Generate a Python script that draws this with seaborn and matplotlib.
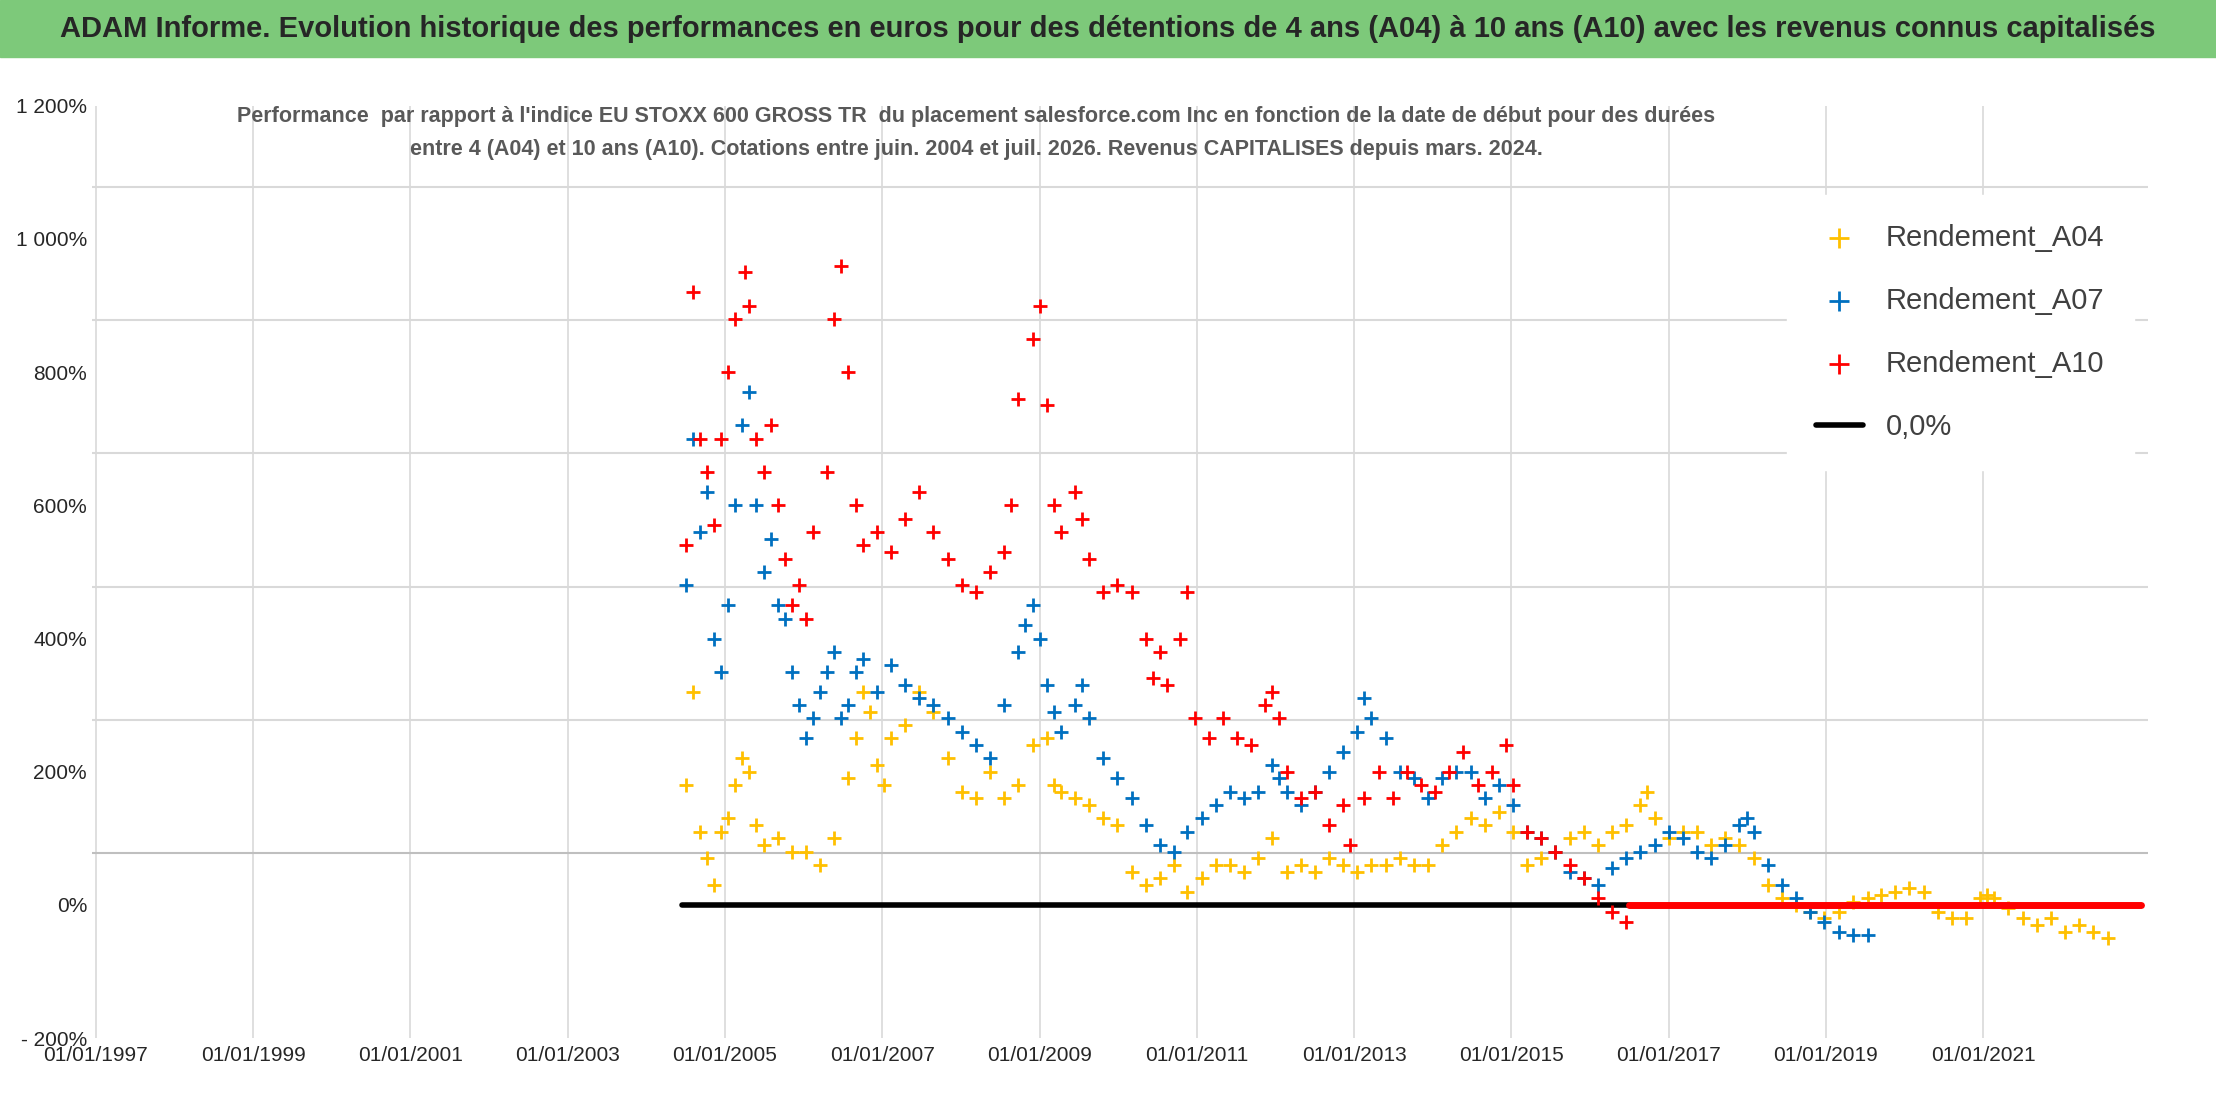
import matplotlib
matplotlib.use("Agg")
import matplotlib.pyplot as plt
import seaborn as sns
import pandas as pd
from matplotlib.ticker import FuncFormatter

# values (decimal years, performance in %)
a04_years = [2004.50, 2004.59, 2004.68, 2004.77, 2004.86, 2004.95, 2005.04, 2005.13, 2005.22, 2005.31,
             2005.40, 2005.49, 2005.67, 2005.85, 2006.03, 2006.21, 2006.39, 2006.57, 2006.66, 2006.75,
             2006.84, 2006.93, 2007.02, 2007.11, 2007.29, 2007.47, 2007.65, 2007.83, 2008.01, 2008.19,
             2008.37, 2008.55, 2008.73, 2008.91, 2009.09, 2009.18, 2009.27, 2009.45, 2009.63, 2009.81,
             2009.99, 2010.17, 2010.35, 2010.53, 2010.71, 2010.88, 2011.06, 2011.24, 2011.42, 2011.60,
             2011.78, 2011.96, 2012.14, 2012.32, 2012.50, 2012.68, 2012.86, 2013.04, 2013.22, 2013.40,
             2013.58, 2013.76, 2013.94, 2014.12, 2014.30, 2014.48, 2014.66, 2014.84, 2015.02, 2015.20,
             2015.38, 2015.56, 2015.74, 2015.92, 2016.10, 2016.28, 2016.46, 2016.64, 2016.73, 2016.82,
             2017.00, 2017.18, 2017.36, 2017.54, 2017.72, 2017.90, 2018.08, 2018.26, 2018.44, 2018.62,
             2018.80, 2018.98, 2019.16, 2019.34, 2019.53, 2019.70, 2019.88, 2020.06, 2020.24, 2020.42,
             2020.60, 2020.78, 2020.96, 2021.05, 2021.14, 2021.32, 2021.50, 2021.68, 2021.86, 2022.04,
             2022.22, 2022.40, 2022.58]
a04_vals = [180, 320, 110, 70, 30, 110, 130, 180, 220, 200,
            120, 90, 100, 80, 80, 60, 100, 190, 250, 320,
            290, 210, 180, 250, 270, 320, 290, 220, 170, 160,
            200, 160, 180, 240, 250, 180, 170, 160, 150, 130,
            120, 50, 30, 40, 60, 20, 40, 60, 60, 50,
            70, 100, 50, 60, 50, 70, 60, 50, 60, 60,
            70, 60, 60, 90, 110, 130, 120, 140, 110, 60,
            70, 80, 100, 110, 90, 110, 120, 150, 170, 130,
            100, 110, 110, 90, 100, 90, 70, 30, 10, 0,
            -10, -20, -10, 5, 10, 15, 20, 25, 20, -10,
            -20, -20, 10, 15, 10, -5, -20, -30, -20, -40,
            -30, -40, -50]

a07_years = [2004.50, 2004.59, 2004.68, 2004.77, 2004.86, 2004.95, 2005.04, 2005.13, 2005.22, 2005.31,
             2005.40, 2005.49, 2005.58, 2005.67, 2005.76, 2005.85, 2005.94, 2006.03, 2006.12, 2006.21,
             2006.30, 2006.39, 2006.48, 2006.57, 2006.66, 2006.75, 2006.93, 2007.11, 2007.29, 2007.47,
             2007.65, 2007.83, 2008.01, 2008.19, 2008.37, 2008.55, 2008.73, 2008.82, 2008.91, 2009.00,
             2009.09, 2009.18, 2009.27, 2009.45, 2009.54, 2009.63, 2009.81, 2009.99, 2010.17, 2010.35,
             2010.53, 2010.71, 2010.88, 2011.06, 2011.24, 2011.42, 2011.60, 2011.78, 2011.96, 2012.05,
             2012.14, 2012.32, 2012.50, 2012.68, 2012.86, 2013.04, 2013.13, 2013.22, 2013.40, 2013.58,
             2013.76, 2013.94, 2014.12, 2014.30, 2014.48, 2014.66, 2014.84, 2015.02, 2015.20, 2015.38,
             2015.56, 2015.74, 2015.92, 2016.10, 2016.28, 2016.46, 2016.64, 2016.82, 2017.00, 2017.18,
             2017.36, 2017.54, 2017.72, 2017.90, 2017.99, 2018.08, 2018.26, 2018.44, 2018.62, 2018.80,
             2018.98, 2019.16, 2019.34, 2019.53]
a07_vals = [480, 700, 560, 620, 400, 350, 450, 600, 720, 770,
            600, 500, 550, 450, 430, 350, 300, 250, 280, 320,
            350, 380, 280, 300, 350, 370, 320, 360, 330, 310,
            300, 280, 260, 240, 220, 300, 380, 420, 450, 400,
            330, 290, 260, 300, 330, 280, 220, 190, 160, 120,
            90, 80, 110, 130, 150, 170, 160, 170, 210, 190,
            170, 150, 170, 200, 230, 260, 310, 280, 250, 200,
            190, 160, 190, 200, 200, 160, 180, 150, 110, 100,
            80, 50, 40, 30, 55, 70, 80, 90, 110, 100,
            80, 70, 90, 120, 130, 110, 60, 30, 10, -10,
            -25, -40, -45, -45]

a10_years = [2004.50, 2004.59, 2004.68, 2004.77, 2004.86, 2004.95, 2005.04, 2005.13, 2005.26, 2005.31,
             2005.40, 2005.49, 2005.58, 2005.67, 2005.76, 2005.85, 2005.94, 2006.03, 2006.12, 2006.30,
             2006.39, 2006.48, 2006.57, 2006.66, 2006.75, 2006.93, 2007.11, 2007.29, 2007.47, 2007.65,
             2007.83, 2008.01, 2008.19, 2008.37, 2008.55, 2008.64, 2008.73, 2008.91, 2009.00, 2009.09,
             2009.18, 2009.27, 2009.45, 2009.54, 2009.63, 2009.81, 2009.99, 2010.17, 2010.35, 2010.44,
             2010.53, 2010.62, 2010.79, 2010.88, 2010.97, 2011.15, 2011.33, 2011.51, 2011.69, 2011.87,
             2011.96, 2012.05, 2012.14, 2012.32, 2012.50, 2012.68, 2012.86, 2012.95, 2013.13, 2013.31,
             2013.49, 2013.67, 2013.85, 2014.03, 2014.21, 2014.39, 2014.57, 2014.75, 2014.93, 2015.02,
             2015.20, 2015.38, 2015.56, 2015.74, 2015.92, 2016.10, 2016.28, 2016.46]
a10_vals = [540, 920, 700, 650, 570, 700, 800, 880, 950, 900,
            700, 650, 720, 600, 520, 450, 480, 430, 560, 650,
            880, 960, 800, 600, 540, 560, 530, 580, 620, 560,
            520, 480, 470, 500, 530, 600, 760, 850, 900, 750,
            600, 560, 620, 580, 520, 470, 480, 470, 400, 340,
            380, 330, 400, 470, 280, 250, 280, 250, 240, 300,
            320, 280, 200, 160, 170, 120, 150, 90, 160, 200,
            160, 200, 180, 170, 200, 230, 180, 200, 240, 180,
            110, 100, 80, 60, 40, 10, -10, -25]

a10_flat_years = [2016.50, 2023.00]
a10_flat_vals = [0, 0]
zero_years = [2004.45, 2016.50]
zero_vals = [0, 0]

tick_years = list(range(1997, 2023, 2))
y_ticks = [-200, 0, 200, 400, 600, 800, 1000, 1200]
grid_levels = [78, 278, 478, 678, 878, 1078]

title = ("ADAM Informe. Evolution historique des performances en euros pour des détentions "
         "de 4 ans (A04) à 10 ans (A10) avec les revenus connus capitalisés")
subtitle = ("Performance  par rapport à l'indice EU STOXX 600 GROSS TR  du placement salesforce.com Inc "
            "en fonction de la date de début pour des durées\nentre 4 (A04) et 10 ans (A10). Cotations "
            "entre juin. 2004 et juil. 2026. Revenus CAPITALISES depuis mars. 2024.")

sns.set_style("white")
plt.rcParams['font.family'] = ['Liberation Sans', 'DejaVu Sans']

fig = plt.figure(figsize=(22.16, 11.02), dpi=100)

# green title bar
fig.patches.append(plt.Rectangle((0, 0.948), 1, 0.052, transform=fig.transFigure,
                                 color='#7DC97A', zorder=0))
fig.text(0.5, 0.974, title, ha='center', va='center', fontsize=21, fontweight='bold')

ax = fig.add_axes([0.0415, 0.058, 0.928, 0.846])

for yr in tick_years:
    ax.axvline(yr, color='#d9d9d9', lw=1.2, zorder=0)
for lv in grid_levels:
    ax.axhline(lv, color='#bfbfbf' if lv == 78 else '#d9d9d9', lw=1.5, zorder=0)

df04 = pd.DataFrame({'year': a04_years, 'val': a04_vals})
df07 = pd.DataFrame({'year': a07_years, 'val': a07_vals})
df10 = pd.DataFrame({'year': a10_years, 'val': a10_vals})

sns.scatterplot(data=df04, x='year', y='val', marker='+', s=90, color='#FFC000',
                linewidth=2, label='Rendement_A04', ax=ax, zorder=3)
sns.scatterplot(data=df07, x='year', y='val', marker='+', s=90, color='#0070C0',
                linewidth=2, label='Rendement_A07', ax=ax, zorder=4)
sns.scatterplot(data=df10, x='year', y='val', marker='+', s=90, color='#FF0000',
                linewidth=2, label='Rendement_A10', ax=ax, zorder=5)
ax.plot(a10_flat_years, a10_flat_vals, color='#FF0000', lw=5, zorder=5)
ax.plot(zero_years, zero_vals, color='black', lw=4, label='0,0%', zorder=2)

ax.set_xlim(1996.95, 2023.1)
ax.set_ylim(-200, 1200)
ax.set_xticks(tick_years)
ax.set_xticklabels([f"01/01/{y}" for y in tick_years], fontsize=15)
ax.set_yticks(y_ticks)


def pct(v, pos):
    s = f"{abs(int(v)):,}".replace(',', ' ') + '%'
    return ('- ' + s) if v < 0 else s


ax.yaxis.set_major_formatter(FuncFormatter(pct))
ax.tick_params(axis='y', labelsize=15, length=0)
ax.tick_params(axis='x', length=0, pad=6)
ax.set_xlabel('')
ax.set_ylabel('')
for sp in ax.spines.values():
    sp.set_visible(False)

ax.text(0.43, 1.0, subtitle, transform=ax.transAxes, ha='center', va='top',
        fontsize=15.5, fontweight='bold', color='#595959', linespacing=1.75)

leg = ax.legend(loc='upper right', bbox_to_anchor=(1.0, 0.92), fontsize=21, frameon=True,
                framealpha=1, edgecolor='white', labelspacing=1.2, markerscale=1.5,
                handlelength=1.6, borderpad=1.0)
for t in leg.get_texts():
    t.set_color('#404040')

fig.savefig('out.png', dpi=100)
